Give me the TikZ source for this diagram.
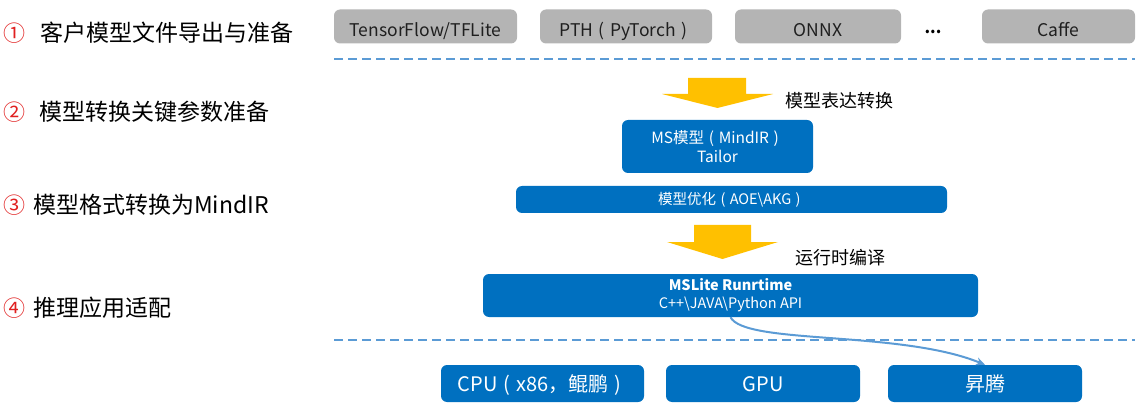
\documentclass[tikz,border=0pt]{standalone}
\usepackage{fontspec}
\setmainfont{Noto Sans CJK SC}
\usetikzlibrary{arrows.meta}
\definecolor{hwblue}{HTML}{0070C0}
\definecolor{hwgray}{HTML}{B4B4B4}
\definecolor{hwyellow}{HTML}{FFC000}
\definecolor{dashblue}{HTML}{5B9BD5}
\definecolor{numred}{HTML}{E02020}
\newcommand{\fwlp}{\kern0.3em(\kern0.3em}
\newcommand{\fwrp}{\kern0.3em)\kern0.3em}
\begin{document}
\begin{tikzpicture}[x=1pt,y=-1pt,
  graybox/.style={fill=hwgray,rounded corners=6pt,inner sep=0pt,text=black!88,font=\fontsize{17.5}{19}\selectfont,text height=20pt,text depth=0pt},
  bluebox/.style={fill=hwblue,rounded corners=6pt,inner sep=0pt,text=white,align=center},
  hwbox/.style={bluebox,minimum height=37pt,font=\fontsize{20}{22}\selectfont,text height=15pt,text depth=0pt},
  steplabel/.style={anchor=west,inner sep=0pt,font=\fontsize{23}{25}\selectfont},
  numlabel/.style={inner sep=0pt,text=numred,font=\fontsize{22}{24}\selectfont},
  sep/.style={dashblue,line width=2pt,dash pattern=on 9pt off 5pt},
  bigarrow/.style={fill=hwyellow},
  arrowlabel/.style={anchor=west,inner sep=0pt,font=\fontsize{18}{20}\selectfont},
  conn/.style={dashblue,line width=2pt,-{Stealth[length=9pt,width=8pt]}}]
\useasboundingbox (0,0) rectangle (1143,406);

% left step labels
\node[numlabel] (n1) at (14.5,33) {①};
\node[steplabel] (s1) at (40,33) {客户模型文件导出与准备};
\node[numlabel] (n2) at (14.5,112) {②};
\node[steplabel] (s2) at (39,112) {模型转换关键参数准备};
\node[numlabel] (n3) at (14.5,205) {③};
\node[steplabel] (s3) at (33,205) {模型格式转换为MindIR};
\node[numlabel] (n4) at (14.5,308) {④};
\node[steplabel] (s4) at (33,308) {推理应用适配};

% top gray boxes
\node[graybox,minimum width=183pt,minimum height=34pt] (tf) at (425.5,26.5) {TensorFlow/TFLite};
\node[graybox,minimum width=172pt,minimum height=34pt] (pth) at (626,26.5) {PTH\fwlp PyTorch\fwrp};
\node[graybox,minimum width=166pt,minimum height=34pt] (onnx) at (818,26.5) {ONNX};
\node[inner sep=0pt,font=\fontsize{16}{18}\selectfont\bfseries] (dots) at (933,32) {...};
\node[graybox,minimum width=153pt,minimum height=34pt] (caffe) at (1058.5,26.5) {Caffe};

% separators
\coordinate (d1l) at (334,59);
\coordinate (d1r) at (1135,59);
\draw[sep] (d1l) -- (d1r);
\coordinate (d2l) at (334,340);
\coordinate (d2r) at (1135,340);
\draw[sep] (d2l) -- (d2r);

% yellow arrow 1
\fill[bigarrow] (688,78) -- (746,78) -- (746,94) -- (773,94) -- (717.5,108) -- (662,94) -- (688,94) -- cycle;
\node[arrowlabel] (l1) at (785,101) {模型表达转换};

% MS model box
\node[bluebox,minimum width=191pt,minimum height=53pt,font=\fontsize{15.5}{19}\selectfont] (ms) at (717.5,146.5) {MS模型\fwlp MindIR\fwrp\\Tailor};

% optimization box
\node[bluebox,minimum width=431pt,minimum height=27pt,font=\fontsize{14.5}{17}\selectfont] (opt) at (731.5,199.5) {模型优化\fwlp AOE\textbackslash AKG\fwrp};

% yellow arrow 2
\fill[bigarrow] (694,225) -- (751,225) -- (751,242) -- (778,242) -- (722.5,259) -- (667,242) -- (694,242) -- cycle;
\node[arrowlabel] (l2) at (795,258) {运行时编译};

% MSLite runtime box
\node[bluebox,minimum width=495pt,minimum height=43pt,font=\fontsize{14.5}{18}\selectfont] (mslite) at (730.5,295.5) {\textbf{MSLite Runrtime}\\C++\textbackslash JAVA\textbackslash Python API};

% bottom hardware boxes
\node[hwbox,minimum width=203pt] (cpu) at (542.5,383.5) {CPU\fwlp x86，鲲鹏\fwrp};
\node[hwbox,minimum width=194pt] (gpu) at (763,383.5) {GPU};
\node[hwbox,minimum width=194pt] (sheng) at (985,383.5) {昇腾};

% curved connector
\draw[conn] (mslite.south) .. controls (745,345) and (900,330) .. (sheng.north);
\end{tikzpicture}
\end{document}
